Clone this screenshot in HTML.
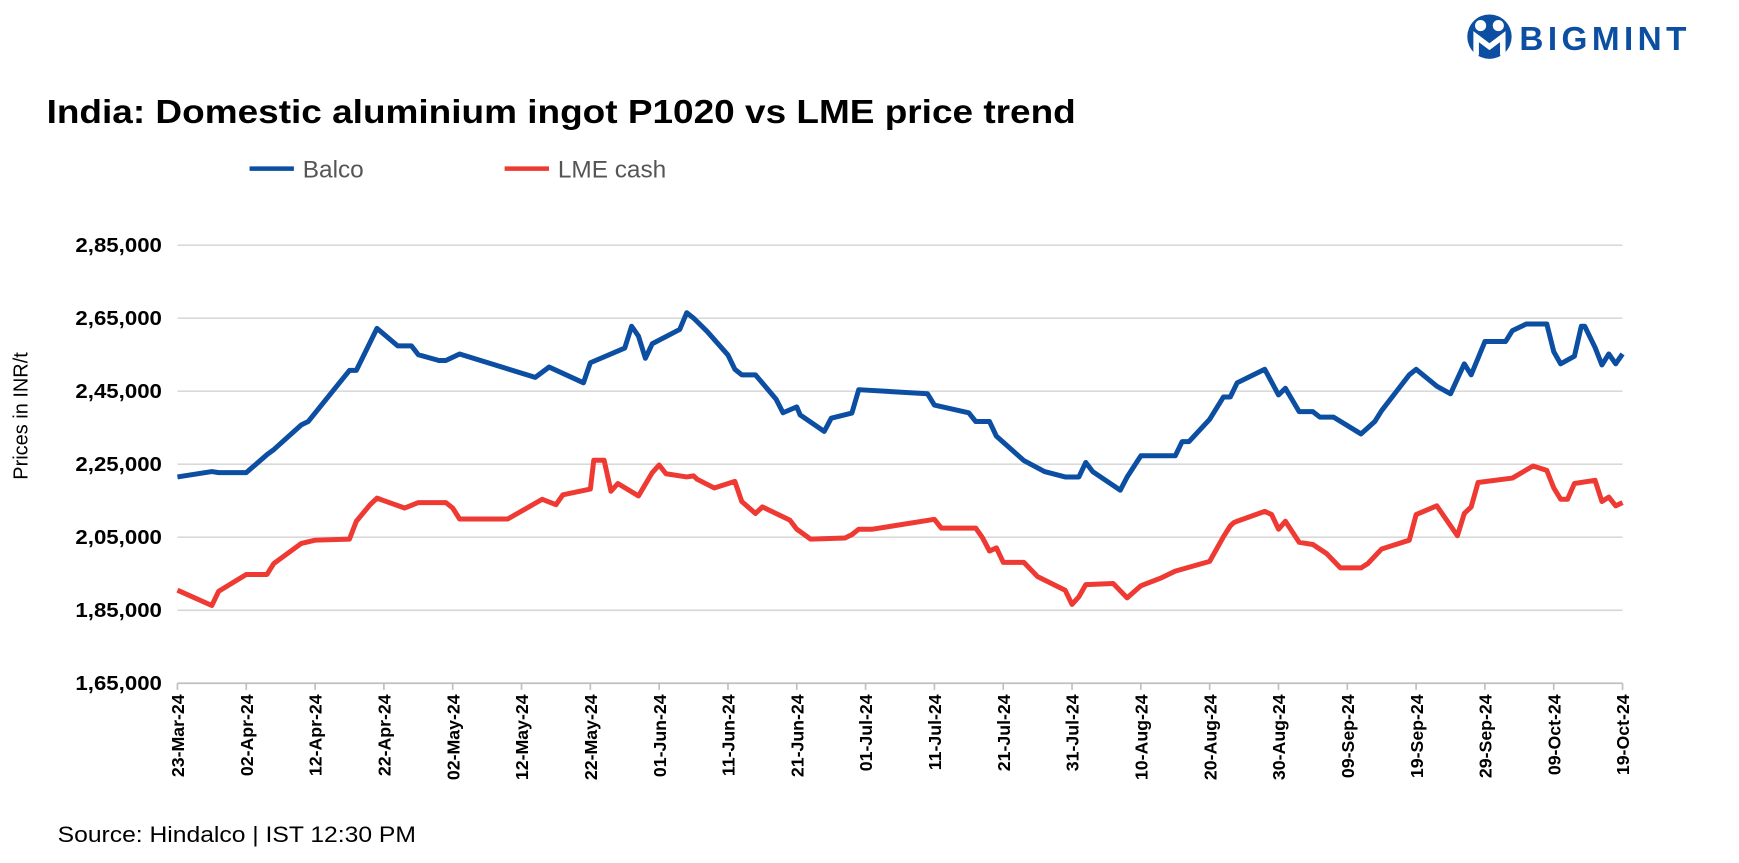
<!DOCTYPE html>
<html><head><meta charset="utf-8">
<style>
html,body{margin:0;padding:0;background:#fff;}
svg{display:block;font-family:"Liberation Sans",sans-serif;}
</style></head>
<body>
<svg id="chart" width="1739" height="863" viewBox="0 0 1568 778" xmlns="http://www.w3.org/2000/svg">
  <g>
    <circle cx="1343" cy="33" r="20" fill="#0b4ea2"/>
    <circle cx="1335" cy="23" r="5" fill="#fff"/>
    <circle cx="1351" cy="23" r="5" fill="#fff"/>
    <path d="M1331 50 L1331 33 L1343 42 L1355 33 L1355 50" stroke="#fff" stroke-width="5" fill="none"/>
    <text x="1370" y="45" font-size="30" font-weight="bold" fill="#0b4ea2" letter-spacing="4">BIGMINT</text>
  </g>
  <text x="42" y="111" font-size="30" font-weight="bold" fill="#000" textLength="928" lengthAdjust="spacingAndGlyphs">India: Domestic aluminium ingot P1020 vs LME price trend</text>
  <g>
    <g>
      <line x1="225" y1="152" x2="265" y2="152" stroke="#0b4ea2" stroke-width="4"/>
      <text x="273" y="160" font-size="22" fill="#555">Balco</text>
    </g>
    <g>
      <line x1="455" y1="152" x2="495" y2="152" stroke="#ee3a33" stroke-width="4"/>
      <text x="503" y="160" font-size="22" fill="#555">LME cash</text>
    </g>
  </g>
  <text transform="translate(25,375) rotate(-90)" text-anchor="middle" font-size="18" fill="#000">Prices in INR/t</text>
  <g id="grid"></g>
  <g id="yticks"></g>
  <g id="xticks"></g>
  <g id="series"></g>
  <text x="52" y="759" font-size="20" fill="#000" textLength="323" lengthAdjust="spacingAndGlyphs">Source: Hindalco | IST 12:30 PM</text>
</svg>
<script>
const yTicks = [165000, 185000, 205000, 225000, 245000, 265000, 285000];
const yTickLabels = ["1,65,000","1,85,000","2,05,000","2,25,000","2,45,000","2,65,000","2,85,000"];
const xTickDays = [0,10,20,30,40,50,60,70,80,90,100,110,120,130,140,150,160,170,180,190,200,210];
const xTickLabels = ["23-Mar-24","02-Apr-24","12-Apr-24","22-Apr-24","02-May-24","12-May-24","22-May-24","01-Jun-24","11-Jun-24","21-Jun-24","01-Jul-24","11-Jul-24","21-Jul-24","31-Jul-24","10-Aug-24","20-Aug-24","30-Aug-24","09-Sep-24","19-Sep-24","29-Sep-24","09-Oct-24","19-Oct-24"];
const balcoDays = [0,5,6,10,13,14,18,19,25,26,29,32,34,35,38,39,41,52,54,59,60,65,66,67,68,69,73,74,75,77,80,81,82,84,87,88,90,90.5,94,95,98,99,109,110,115,116,118,119,123,126,129,131,132,133,137,138,140,145,146,147,150,152,153,154,158,160,161,163,165,166,168,172,174,175,179,180,183,185,187,188,190,193,194,196,199,200,201,203,204,204.5,206,207,208,209,210];
const balcoValues = [221500,223000,222700,222700,227600,229000,235800,236700,250700,250700,262200,257400,257400,255000,253400,253400,255200,248800,251600,247300,252800,256800,262800,260100,254000,258000,261900,266500,265000,261300,254900,251000,249500,249500,242800,239100,240700,238500,234000,237600,239000,245400,244300,241200,239100,236700,236700,232700,226000,223000,221500,221500,225500,223000,217900,221500,227300,227300,231200,231200,237300,243400,243400,247300,251000,244000,245800,239400,239400,237900,237900,233300,236700,239700,249500,251000,246400,244300,252500,249500,258600,258600,261600,263400,263400,255800,252500,254600,262800,262800,257000,252200,255200,252500,255200];
const lmeDays = [0,5,6,10,13,14,18,20,25,26,28,29,33,35,39,40,41,48,53,55,56,60,60.5,62,63,64,67,69,70,71,74,75,75.5,78,81,82,84,85,89,90,92,97,98,99,101,110,111,116,117,118,119,120,123,125,129,130,131,132,136,138,140,143,145,150,152,153,153.5,154,158,159,160,161,163,165,167,169,172,173,175,179,180,183,186,187,188,189,194,197,199,200,201,202,203,206,207,208,209,210];
const lmeValues = [190500,186300,190200,194800,194800,197800,203300,204200,204500,209400,213900,215700,213000,214500,214500,213000,210000,210000,215400,213900,216600,218200,226100,226100,217600,219700,216300,222700,224800,222400,221500,221800,220900,218500,220300,214800,211500,213300,209700,207200,204500,204800,205700,207200,207200,209900,207500,207500,204800,201200,202100,198100,198100,194200,190500,186600,188700,192000,192300,188400,191700,193900,195700,198400,205100,208100,209000,209400,212100,211200,207200,209400,203600,203000,200500,196600,196600,197800,201800,204200,211200,213600,205400,211500,213300,220000,221200,224500,223300,218500,215400,215400,219700,220600,214800,216000,213600,214500];

const NS = "http://www.w3.org/2000/svg";
const X0 = 160, X1 = 1463, DMAX = 210;
const Y0 = 616, Y1 = 221, VMIN = 165000, VMAX = 285000;
const xs = d => X0 + (d / DMAX) * (X1 - X0);
const ys = v => Y0 - (v - VMIN) / (VMAX - VMIN) * (Y0 - Y1);
function mk(tag, attrs, parent) {
  const el = document.createElementNS(NS, tag);
  for (const k in attrs) el.setAttribute(k, attrs[k]);
  parent.appendChild(el);
  return el;
}
const grid = document.getElementById('grid');
const yt = document.getElementById('yticks');
yTicks.forEach((v, i) => {
  const ln = mk('line', {x1: X0, x2: X1, y1: ys(v), y2: ys(v), stroke: i === 0 ? '#bfbfbf' : '#d9d9d9', 'stroke-width': 1.5}, grid);
  
  
  const t = mk('text', {x: 146, y: ys(v) + 6, 'text-anchor': 'end', 'font-size': 18, 'font-weight': 'bold', fill: '#000', textLength: 78, lengthAdjust: 'spacingAndGlyphs'}, yt);
  t.textContent = yTickLabels[i];
  
  
});
const xt = document.getElementById('xticks');
xTickDays.forEach((d, i) => {
  const x = xs(d);
  const tk = mk('line', {x1: x, x2: x, y1: Y0, y2: Y0 + 6, stroke: '#bfbfbf', 'stroke-width': 1.5}, xt);
  
  
  const t = mk('text', {transform: `translate(${x + 6},${Y0 + 10}) rotate(-90)`, 'text-anchor': 'end', 'font-size': 16, 'font-weight': 'bold', fill: '#000'}, xt);
  t.textContent = xTickLabels[i];
  
  
});
const series = document.getElementById('series');
function drawLine(days, vals, color, name) {
  const d = days.map((dd, i) => (i ? 'L' : 'M') + xs(dd).toFixed(1) + ' ' + ys(vals[i]).toFixed(1)).join(' ');
  const p = mk('path', {d: d, fill: 'none', stroke: color, 'stroke-width': 4.5, 'stroke-linejoin': 'round'}, series);
  
  
}
drawLine(lmeDays, lmeValues, '#ee3a33', 'lme-cash-line');
drawLine(balcoDays, balcoValues, '#0b4ea2', 'balco-line');
</script>
</body></html>
